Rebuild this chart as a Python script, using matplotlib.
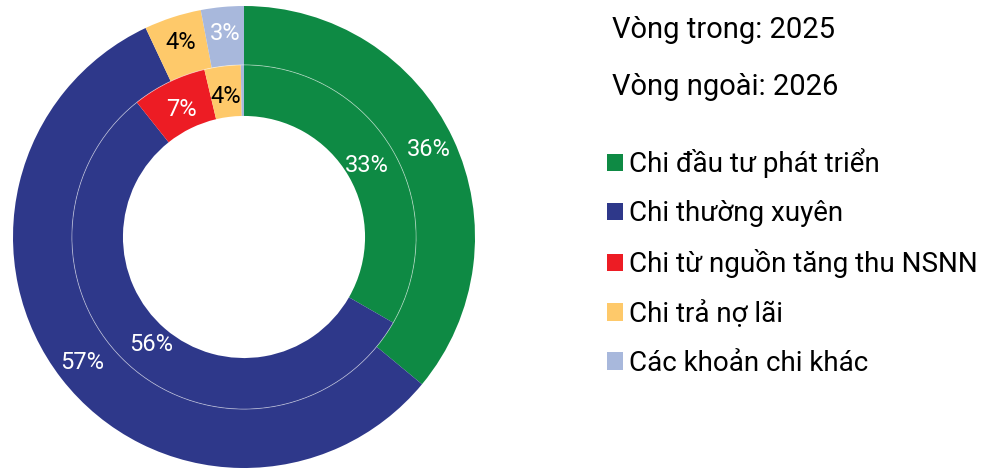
import matplotlib
matplotlib.use("Agg")
from matplotlib import pyplot as plt
from matplotlib.patches import Patch, Circle
import numpy as np

plt.rcParams['font.family'] = ['Roboto', 'DejaVu Sans']

categories = ["Chi đầu tư phát triển", "Chi thường xuyên", "Chi từ nguồn tăng thu NSNN",
              "Chi trả nợ lãi", "Các khoản chi khác"]
colors = ["#0e8a44", "#2e388a", "#ed1c24", "#fec96a", "#a8b8dc"]
label_colors = ["white", "white", "white", "black", "white"]

# vòng trong: 2025, vòng ngoài: 2026 (%)
inner_2025 = [33.3, 56.0, 7.0, 3.4, 0.3]
outer_2026 = [36.0, 57.0, 0.0, 4.0, 3.0]
inner_labels = ["33%", "56%", "7%", "4%", ""]
outer_labels = ["36%", "57%", "", "4%", "3%"]

fig = plt.figure(figsize=(9.82, 4.70), dpi=100)
cx, cy, r = 244, 237, 231
ax = fig.add_axes([(cx - r) / 982, (470 - cy - r) / 470, 2 * r / 982, 2 * r / 470])

r_out = 1.0
r_mid = 0.745
r_hole = 0.524

ax.pie(outer_2026, radius=r_out, colors=colors, startangle=90, counterclock=False,
       wedgeprops=dict(width=r_out - r_mid, edgecolor="none"))
ax.pie(inner_2025, radius=r_mid, colors=colors, startangle=90, counterclock=False,
       wedgeprops=dict(width=r_mid - r_hole, edgecolor="none"))
ax.add_patch(Circle((0, 0), r_mid, fill=False, edgecolor="white", linewidth=0.6, alpha=0.5))


def put_labels(values, labels, dist):
    total = sum(values)
    start = 0.0
    for v, lab, tc in zip(values, labels, label_colors):
        mid = (start + v / 2) / total * 2 * np.pi
        start += v
        if not lab:
            continue
        ang = np.pi / 2 - mid
        ax.text(dist * np.cos(ang), dist * np.sin(ang), lab, ha="center", va="center",
                fontsize=17, color=tc)


put_labels(outer_2026, outer_labels, 0.885)
put_labels(inner_2025, inner_labels, 0.615)

ax.set_xlim(-1, 1)
ax.set_ylim(-1, 1)
ax.set_aspect("equal")
ax.axis("off")

fig.text(612 / 982, 1 - 30 / 470, "Vòng trong: 2025", fontsize=21, va="center", ha="left")
fig.text(612 / 982, 1 - 87 / 470, "Vòng ngoài: 2026", fontsize=21, va="center", ha="left")

handles = [Patch(facecolor=c, edgecolor="none") for c in colors]
fig.legend(handles, categories, loc="upper left", bbox_to_anchor=(596 / 982, 1 - 137 / 470),
           frameon=False, fontsize=20, handlelength=0.58, handleheight=0.58,
           handletextpad=0.22, labelspacing=0.79, borderaxespad=0)

fig.savefig("out.png", dpi=100)
